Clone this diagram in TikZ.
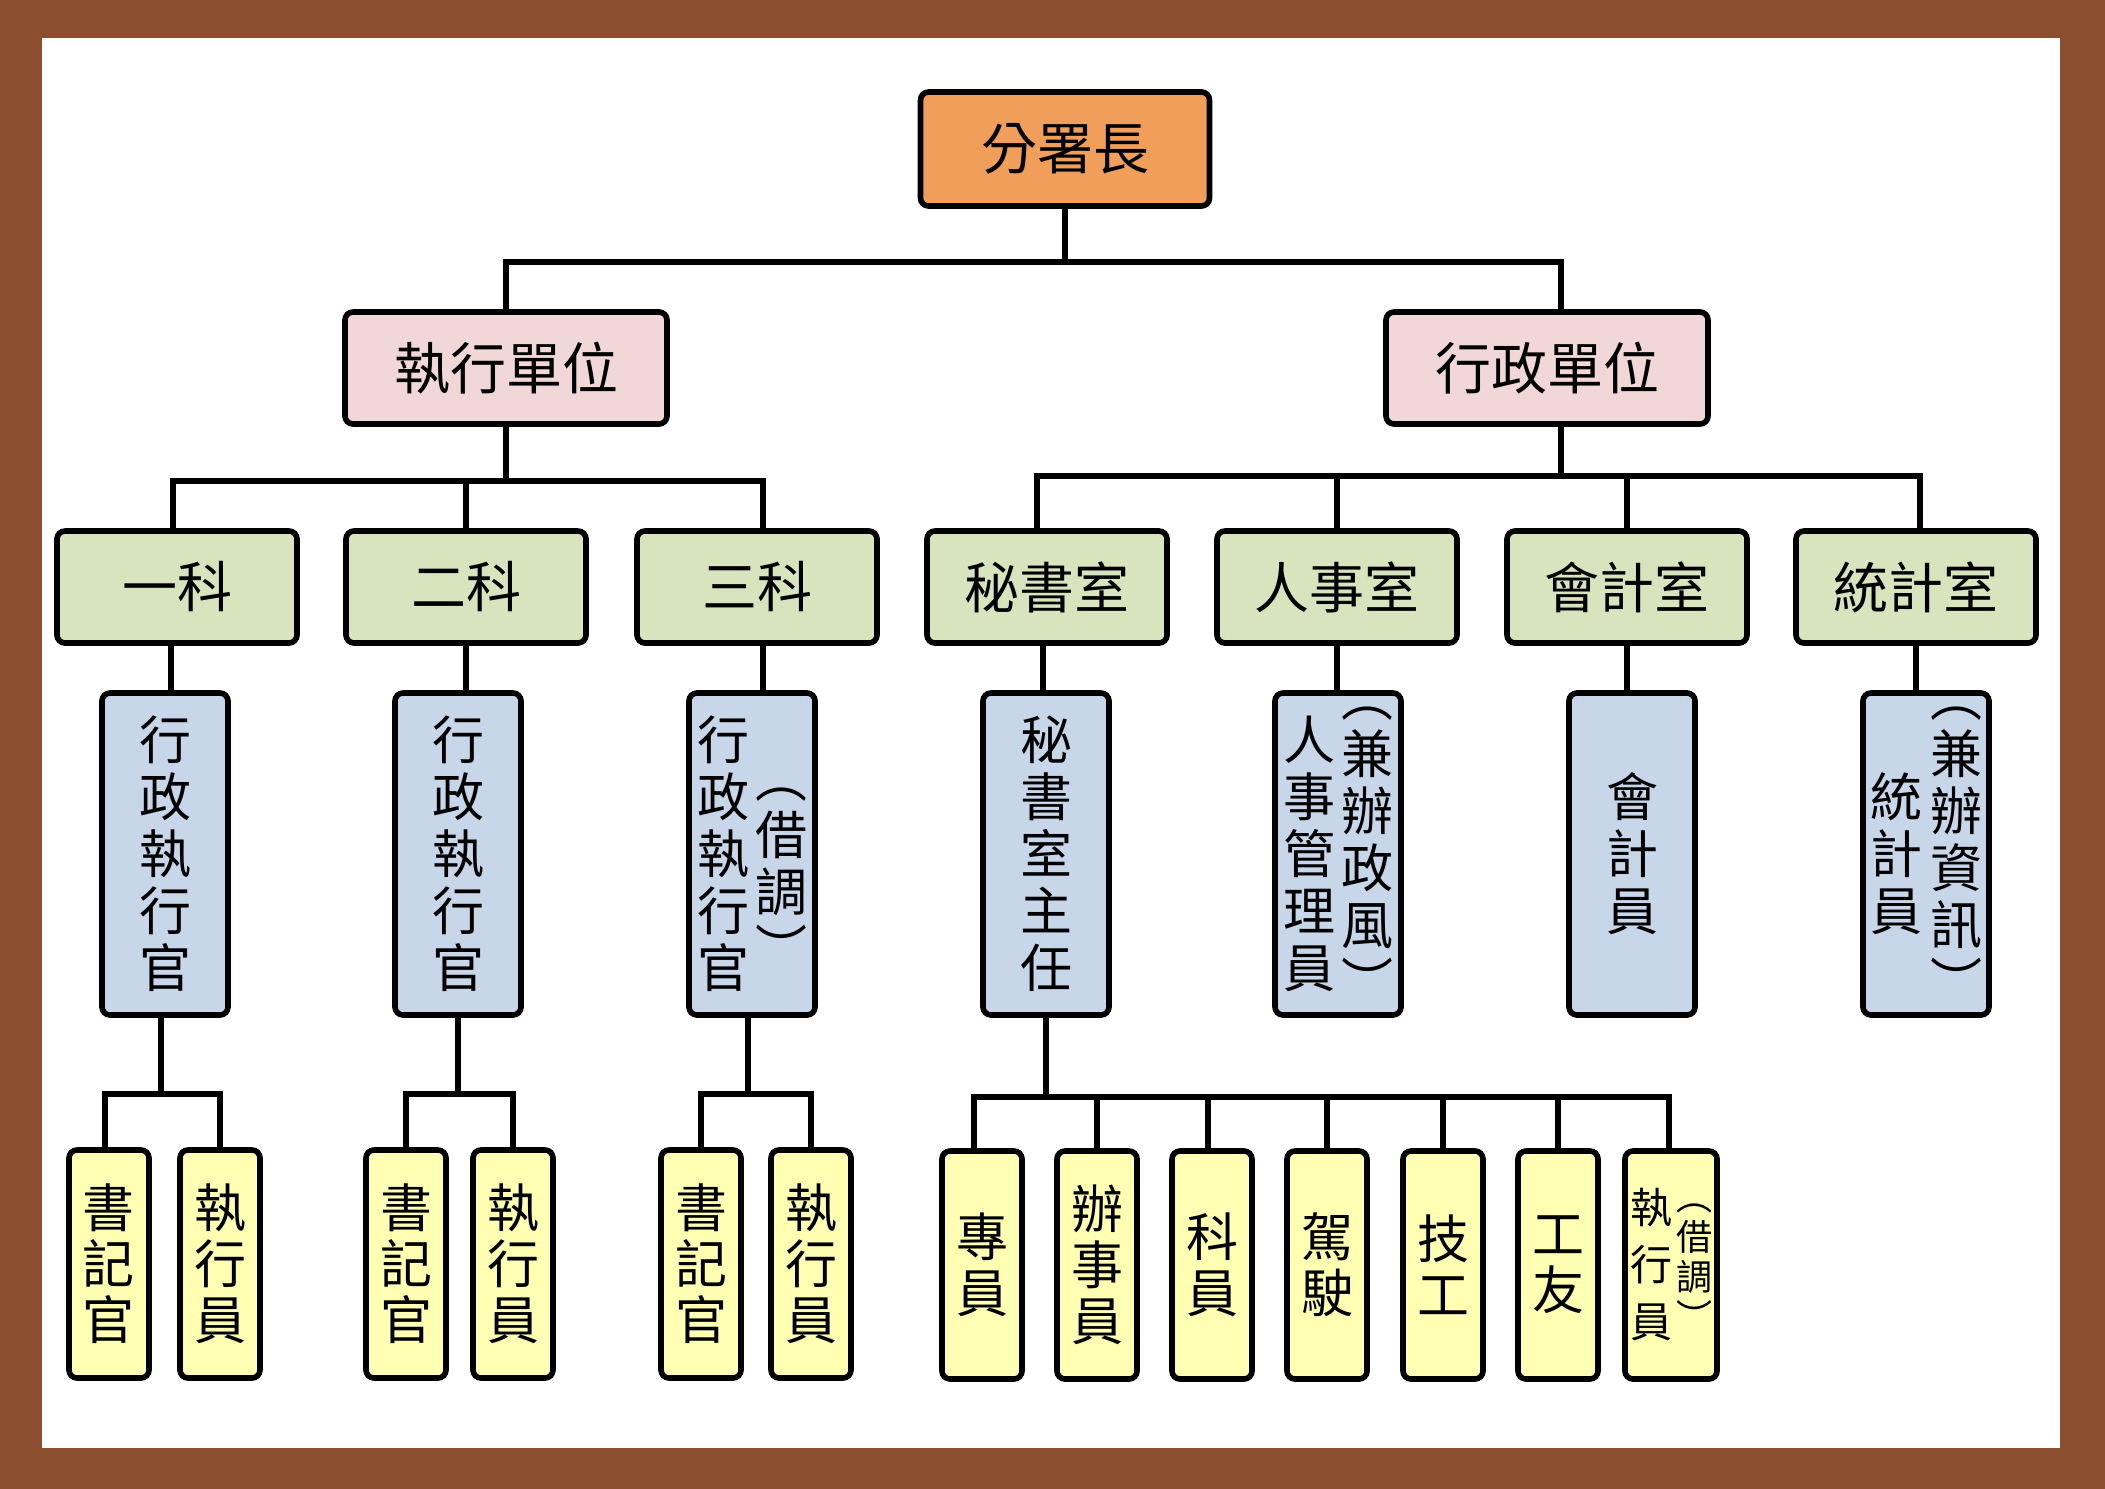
\documentclass[tikz,border=0pt]{standalone}
\usepackage{fontspec}
\setmainfont{Noto Sans CJK TC}

\definecolor{framebrown}{RGB}{139,78,47}
\definecolor{chieforange}{RGB}{240,158,90}
\definecolor{unitpink}{RGB}{242,215,216}
\definecolor{officegreen}{RGB}{216,228,190}
\definecolor{postblue}{RGB}{199,214,233}
\definecolor{staffyellow}{RGB}{255,255,180}

% vertical column of characters, centred
\newcommand{\vcol}[1]{\ensuremath{\vcenter{\halign{\hfil##\hfil\cr#1\crcr}}}}

\begin{document}
\begin{tikzpicture}[x=0.5pt,y=-0.5pt,
  box/.style={draw,line width=2.8pt,rounded corners=4pt,inner sep=0pt},
  chief/.style={box,fill=chieforange,minimum width=144.5pt,minimum height=57pt,font=\fontsize{28pt}{30pt}\selectfont},
  unit/.style={box,fill=unitpink,minimum width=161pt,minimum height=56pt,font=\fontsize{28pt}{30pt}\selectfont},
  office/.style={box,fill=officegreen,minimum width=120pt,minimum height=56pt,font=\fontsize{27.5pt}{30pt}\selectfont},
  post/.style={box,fill=postblue,minimum width=63pt,minimum height=161pt,font=\fontsize{26pt}{28.5pt}\selectfont},
  staff/.style={box,fill=staffyellow,minimum width=40pt,minimum height=114pt,font=\fontsize{26pt}{28pt}\selectfont},
  link/.style={line width=2.8pt}]

\useasboundingbox (0,0) rectangle (2105,1489);

% frame
\fill[framebrown] (0,0) rectangle (2105,1489);
\fill[white] (42,38) rectangle (2060,1448);

% top level: 分署長
\node[chief] (chief) at (1065,149) {分署長};

% units
\node[unit] (exec) at (506,368) {執行單位};
\node[unit] (admin) at (1547,368) {行政單位};

\draw[link] (chief.south) -- +(0,53) -| (exec.north);
\draw[link] (chief.south) -- +(0,53) -| ([xshift=7pt]admin.north);

% sections and offices
\node[office] (sec1) at (177,587) {一科};
\node[office] (sec2) at (466,587) {二科};
\node[office] (sec3) at (757,587) {三科};
\node[office] (secr) at (1047,587) {秘書室};
\node[office] (pers) at (1337,587) {人事室};
\node[office] (acct) at (1627,587) {會計室};
\node[office] (stat) at (1916,587) {統計室};

\draw[link] (exec.south) -- +(0,54) -| ([xshift=-2pt]sec1.north);
\draw[link] (exec.south) -- +(0,54) -| (sec2.north);
\draw[link] (exec.south) -- +(0,54) -| ([xshift=3pt]sec3.north);

\draw[link] ([xshift=7pt]admin.south) -- +(0,49) -| ([xshift=-5pt]secr.north);
\draw[link] ([xshift=7pt]admin.south) -- +(0,49) -| (pers.north);
\draw[link] ([xshift=7pt]admin.south) -- +(0,49) -| (acct.north);
\draw[link] ([xshift=7pt]admin.south) -- +(0,49) -| ([xshift=2pt]stat.north);

% heads (vertical text)
\node[post] (off1) at (165,854) {\vcol{行\cr 政\cr 執\cr 行\cr 官}};
\node[post] (off2) at (458,854) {\vcol{行\cr 政\cr 執\cr 行\cr 官}};
\node[post] (off3) at (752,854) {\vcol{行\cr 政\cr 執\cr 行\cr 官}\hspace{3pt}\raisebox{-12pt}{\vcol{︵\cr 借\cr 調\cr ︶}}};
\node[post] (secdir) at (1046,854) {\vcol{秘\cr 書\cr 室\cr 主\cr 任}};
\node[post] (persadm) at (1338,854) {\vcol{人\cr 事\cr 管\cr 理\cr 員}\hspace{3pt}\vcol{︵\cr 兼\cr 辦\cr 政\cr 風\cr ︶}};
\node[post] (acctclk) at (1632,854) {\vcol{會\cr 計\cr 員}};
\node[post] (statclk) at (1926,854) {\vcol{統\cr 計\cr 員}\hspace{4pt}\vcol{︵\cr 兼\cr 辦\cr 資\cr 訊\cr ︶}};

\draw[link] ([xshift=-3pt]sec1.south) -- ([xshift=-3pt]sec1.south |- off1.north);
\draw[link] (sec2.south) -- (sec2.south |- off2.north);
\draw[link] ([xshift=3pt]sec3.south) -- ([xshift=3pt]sec3.south |- off3.north);
\draw[link] ([xshift=-2pt]secr.south) -- ([xshift=-2pt]secr.south |- secdir.north);
\draw[link] (pers.south) -- (pers.south |- persadm.north);
\draw[link] (acct.south) -- (acct.south |- acctclk.north);
\draw[link] (stat.south) -- (stat.south |- statclk.north);

% staff under the sections
\node[staff] (clk1) at (109,1264) {\vcol{書\cr 記\cr 官}};
\node[staff] (agt1) at (220,1264) {\vcol{執\cr 行\cr 員}};
\node[staff] (clk2) at (406,1264) {\vcol{書\cr 記\cr 官}};
\node[staff] (agt2) at (513,1264) {\vcol{執\cr 行\cr 員}};
\node[staff] (clk3) at (701,1264) {\vcol{書\cr 記\cr 官}};
\node[staff] (agt3) at (811,1264) {\vcol{執\cr 行\cr 員}};

\draw[link] ([xshift=-2pt]off1.south) -- +(0,76) -| ([xshift=-2pt]clk1.north);
\draw[link] ([xshift=-2pt]off1.south) -- +(0,76) -| (agt1.north);
\draw[link] (off2.south) -- +(0,76) -| (clk2.north);
\draw[link] (off2.south) -- +(0,76) -| (agt2.north);
\draw[link] ([xshift=-2pt]off3.south) -- +(0,76) -| (clk3.north);
\draw[link] ([xshift=-2pt]off3.south) -- +(0,76) -| (agt3.north);

% staff under the secretariat
\node[staff] (spec) at (982,1265) {\vcol{專\cr 員}};
\node[staff] (asst) at (1097,1265) {\vcol{辦\cr 事\cr 員}};
\node[staff] (memb) at (1212,1265) {\vcol{科\cr 員}};
\node[staff] (drv) at (1327,1265) {\vcol{駕\cr 駛}};
\node[staff] (tech) at (1443,1265) {\vcol{技\cr 工}};
\node[staff] (wrk) at (1558,1265) {\vcol{工\cr 友}};
\node[staff, minimum width=46pt] (agt4) at (1671,1265) {{\fontsize{21pt}{28.5pt}\selectfont\vcol{執\cr 行\cr 員}}\hspace{2pt}{\fontsize{18pt}{20pt}\selectfont\vcol{︵\cr 借\cr 調\cr ︶}}};

\draw[link] (secdir.south) -- +(0,79) -| ([xshift=-4pt]spec.north);
\draw[link] (secdir.south) -- +(0,79) -| (asst.north);
\draw[link] (secdir.south) -- +(0,79) -| ([xshift=-2pt]memb.north);
\draw[link] (secdir.south) -- +(0,79) -| (drv.north);
\draw[link] (secdir.south) -- +(0,79) -| (tech.north);
\draw[link] (secdir.south) -- +(0,79) -| (wrk.north);
\draw[link] (secdir.south) -- +(0,79) -| ([xshift=-1pt]agt4.north);

\end{tikzpicture}
\end{document}
